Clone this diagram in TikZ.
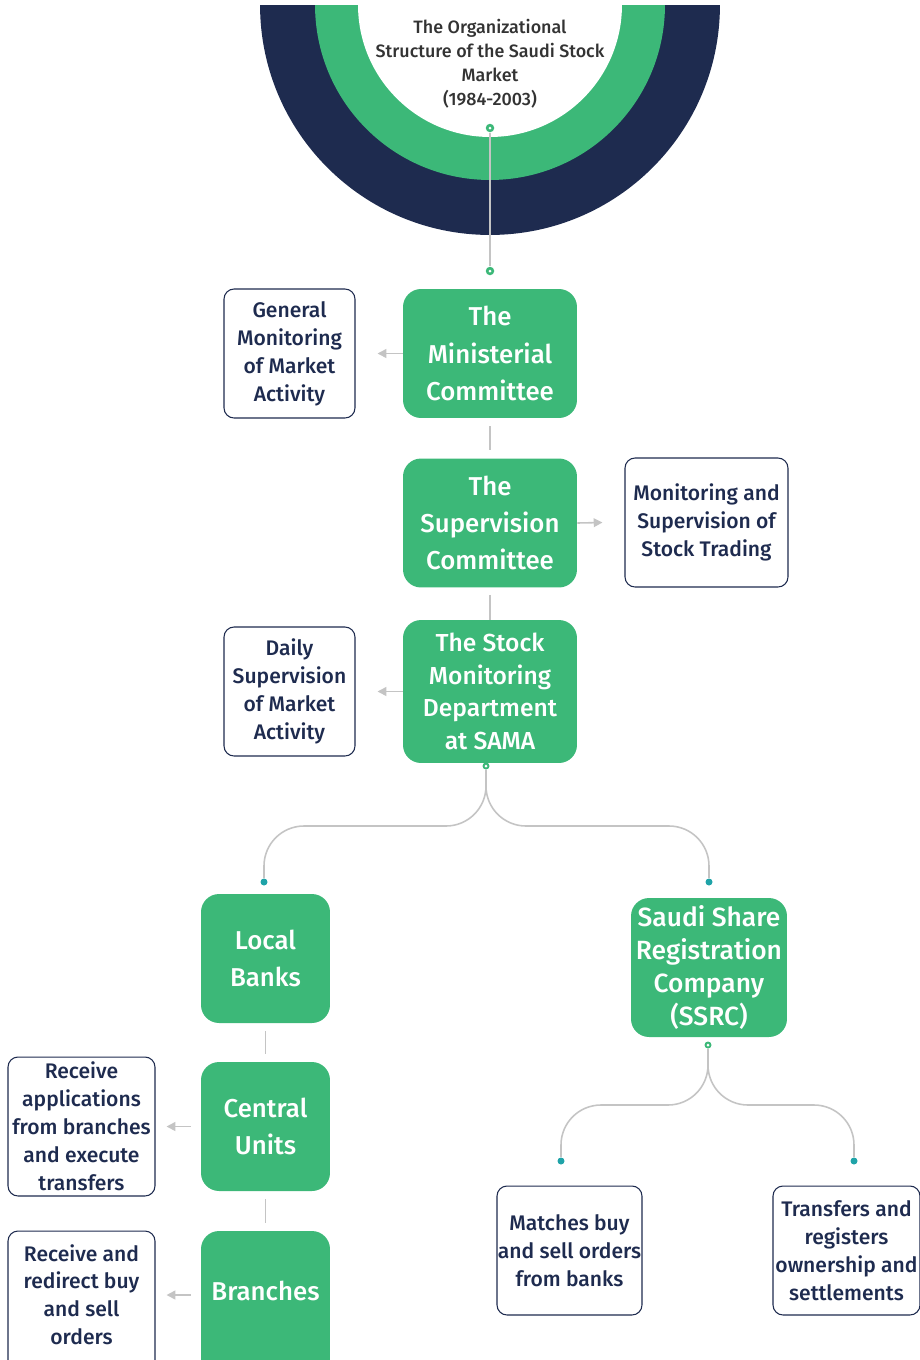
\documentclass[tikz,border=0pt]{standalone}
\usepackage{fontspec}
\setmainfont{Fira Sans}
\newfontfamily\medfont{Fira Sans Medium}
\usetikzlibrary{positioning,arrows.meta}
\definecolor{sgreen}{HTML}{3CB878}
\definecolor{snavy}{HTML}{1E2B4F}
\definecolor{sline}{HTML}{C4C4C4}
\definecolor{steal}{HTML}{1FA3A8}
\definecolor{stitle}{HTML}{333333}
\tikzset{
  greenbox/.style={fill=sgreen, rounded corners=0.36cm, text=white, align=center,
    font=\medfont\fontsize{14.7}{21.3}\selectfont, minimum width=3.48cm, minimum height=2.58cm, inner sep=0pt},
  smallgreen/.style={greenbox, font=\medfont\fontsize{14}{18.6}\selectfont},
  notebox/.style={draw=snavy, line width=0.6pt, rounded corners=0.2cm, fill=white, text=snavy, align=center,
    font=\medfont\fontsize{12}{15.9}\selectfont, minimum width=2.62cm, minimum height=2.58cm, inner sep=0pt},
  link/.style={draw=sline, line width=0.9pt},
  side/.style={link, -{Triangle[length=5pt,width=5pt]}},
  hubdot/.style={circle, fill=sgreen, inner sep=0pt, minimum size=0.17cm,
    path picture={\fill[white] (path picture bounding box.center) circle (0.03cm);}},
  enddot/.style={circle, fill=steal, inner sep=0pt, minimum size=0.14cm},
}
\begin{document}
\begin{tikzpicture}[x=0.02cm, y=-0.02cm]
\useasboundingbox (0,0) rectangle (920,1360);
% half rings at the top
\begin{scope}
  \clip (0,5) rectangle (920,300);
  \fill[snavy] (490,5) circle (4.6cm);
  \fill[sgreen] (490,5) circle (3.5cm);
  \fill[white] (490,5) circle (2.64cm);
\end{scope}
\node[align=center, text=stitle, font=\medfont\fontsize{10.2}{13.6}\selectfont] (title) at (490,63.5)
  {The Organizational\\Structure of the Saudi Stock\\Market\\(1984-2003)};
\node[hubdot] (topdot) at (490,128) {};
\node[hubdot] (mcdot) at (490,271) {};
\draw[link] (topdot) -- (mcdot);

% main column
\node[greenbox] (mc) at (490,353.5) {The\\Ministerial\\Committee};
\node[greenbox] (sc) at (490,523) {The\\Supervision\\Committee};
\node[smallgreen, minimum height=2.86cm] (sm) at (490,691.5) {The Stock\\Monitoring\\Department\\at SAMA};
\node[notebox] (gm) at (289.5,353.5) {General\\Monitoring\\of Market\\Activity};
\node[notebox, minimum width=3.26cm] (ms) at (706.5,522.5) {Monitoring and\\Supervision of\\Stock Trading};
\node[notebox] (ds) at (289.5,691.5) {Daily\\Supervision\\of Market\\Activity};
\draw[side] (mc.west) -- ([xshift=0.44cm]gm.east);
\draw[side] (sc.east) -- ([xshift=-0.44cm]ms.west);
\draw[side] (sm.west) -- ([xshift=0.44cm]ds.east);
\draw[link, shorten <=0.16cm, shorten >=0.16cm] (mc) -- (sc);
\draw[link, shorten <=0.14cm] (sc) -- (sm);

% split below SAMA
\node[hubdot, minimum size=0.14cm] (smdot) at (486,766) {};
\node[enddot] (lbdot) at (264,882) {};
\node[enddot] (srdot) at (709,882) {};
\draw[link, rounded corners=0.8cm] (smdot) |- (264,826) -- (lbdot);
\draw[link, rounded corners=0.8cm] (smdot) |- (709,826) -- (srdot);

% banks branch
\node[greenbox, minimum width=2.58cm] (lb) at (265.5,958.5) {Local\\Banks};
\node[greenbox, minimum width=2.58cm] (cu) at (265.5,1126.5) {Central\\Units};
\node[greenbox, minimum width=2.58cm, minimum height=2.98cm] (br) at (265.5,1305.5) {\raisebox{0.6cm}{Branches}};
\node[notebox, minimum width=2.94cm, minimum height=2.78cm] (ra) at (81.5,1126.5)
  {Receive\\applications\\from branches\\and execute\\transfers};
\node[notebox, minimum width=2.94cm, minimum height=2.98cm] (rr) at (81.5,1305.5)
  {\begin{tabular}{@{}c@{}}Receive and\\redirect buy\\and sell\\orders\end{tabular}\rule[-1.34cm]{0pt}{0pt}};
\draw[link, shorten <=0.16cm, shorten >=0.16cm] (lb) -- (cu);
\draw[link, shorten <=0.16cm, shorten >=0.16cm] (cu.south) -- (cu.south |- br.north);
\draw[side, shorten <=0.2cm] (cu.west) -- ([xshift=0.22cm]ra.east);
\draw[side, shorten <=0.2cm] (cu.west |- 0,1295) -- ([xshift=0.22cm]ra.east |- 0,1295);

% registration company branch
\node[smallgreen, font=\medfont\fontsize{15}{18.6}\selectfont, minimum width=3.12cm, minimum height=2.78cm] (sr) at (709,967.5)
  {Saudi Share\\Registration\\Company\\(SSRC)};
\node[hubdot, minimum size=0.14cm] (srhub) at (708,1045) {};
\node[enddot] (mbdot) at (561,1161) {};
\node[enddot] (trdot) at (854,1161) {};
\draw[link, rounded corners=0.8cm] (srhub) |- (561,1105) -- (mbdot);
\draw[link, rounded corners=0.8cm] (srhub) |- (854,1105) -- (trdot);
\node[notebox, minimum width=2.9cm] (mb) at (569.5,1250.5) {Matches buy\\and sell orders\\from banks};
\node[notebox, minimum width=2.94cm] (tr) at (846.5,1250.5) {Transfers and\\registers\\ownership and\\settlements};
\end{tikzpicture}
\end{document}
